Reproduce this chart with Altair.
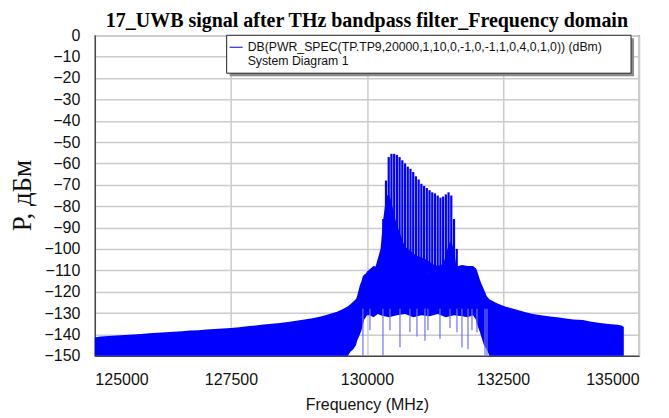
import altair as alt
import pandas as pd

# ---------------- data ----------------
# broadband noise floor: frequency (MHz), upper edge and lower edge (dBm)
noise_freq = [125000, 125100, 125250, 125400, 125550, 125700, 125850, 126000, 126150, 126300,
              126450, 126600, 126750, 126900, 127050, 127200, 127350, 127500, 127650, 127800,
              127950, 128100, 128250, 128400, 128550, 128700, 128850, 129000, 129150, 129300,
              129450, 129550, 129650, 129700, 129750, 129800, 129820, 129870, 129900, 129920,
              129950, 129980, 130000, 130050, 130120, 130200, 130250, 130400, 130550, 130700,
              130850, 131000, 131150, 131300, 131450, 131600, 131750, 131850, 131950, 132000,
              132020, 132077, 132100, 132150, 132200, 132250, 132316, 132400, 132550, 132757,
              132900, 133050, 133200, 133364, 133500, 133650, 133800, 133971, 134100, 134250,
              134400, 134596, 134680, 134720]
noise_top = [-141.5, -141, -140.8, -140.5, -140.3, -140, -139.8, -139.5, -139.2, -139,
             -138.7, -138.5, -138.2, -138, -137.7, -137.5, -137.2, -137, -136.6, -136.2,
             -135.8, -135.4, -135, -134.6, -134.2, -133.6, -133, -132.4, -131.6, -130.6,
             -129.4, -128.2, -126.8, -125.8, -124.6, -123.4, -122, -117, -115, -113,
             -112, -111.5, -110.5, -109.5, -108, -108.5, -108, -110, -109.5, -111,
             -110, -110.5, -111, -110, -109, -108.5, -107.5, -108, -108, -109,
             -110, -114.5, -116, -119, -122, -123.5, -124.5, -125.5, -127, -128.5,
             -129.5, -130.5, -131, -131.6, -132, -132.5, -133, -133.3, -134, -134.5,
             -135, -135.5, -135.8, -136.5]
noise_bottom = [-150, -150, -150, -150, -150, -150, -150, -150, -150, -150,
                -150, -150, -150, -150, -150, -150, -150, -150, -150, -150,
                -150, -150, -150, -150, -150, -150, -150, -150, -150, -150,
                -150, -150, -150, -148, -147, -145, -143, -140, -138, -136,
                -133, -132, -131, -131, -132, -130.5, -131, -132, -131, -130.5,
                -132, -131, -131.5, -130.5, -132, -131, -131.5, -132, -131, -133,
                -135, -139, -141, -145, -147, -150, -150, -150, -150, -150,
                -150, -150, -150, -150, -150, -150, -150, -150, -150, -150,
                -150, -150, -150, -150]

# dense core inside the comb region
core_freq = [130150, 130250, 130300, 130350, 130400, 130450, 130500, 130550, 130600, 130650,
             130700, 130800, 130900, 131000, 131100, 131200, 131300, 131400, 131450, 131500,
             131550, 131600, 131650]
core_top = [-109, -100, -86, -76, -74, -78, -84, -89, -92, -96,
            -99, -101, -103, -104, -105, -107, -108, -107, -103, -98,
            -96, -101, -109]

# spectral comb lines: frequency (MHz) and peak level (dBm)
comb_freq = [130300, 130350, 130400, 130450, 130500, 130550, 130600, 130650, 130700, 130750,
             130800, 130850, 130900, 130950, 131000, 131050, 131100, 131150, 131200, 131250,
             131300, 131350, 131400, 131450, 131500, 131550, 131600, 131650]
comb_peak = [-86, -68, -57, -55.5, -55.5, -56, -57, -58.5, -60, -61.5,
             -62.5, -64, -66, -67.5, -69.5, -70.5, -71.5, -72.5, -73.5, -74,
             -75, -76, -75.5, -74.5, -73.5, -75, -86, -100]

# deep downward noise dips in the passband
dip_freq = [129926, 130055, 130294, 130423, 130607, 130790, 130919, 131066, 131121, 131342,
            131526, 131654, 131746, 131857, 131930, 132022, 132169, 132206]
dip_low = [-150, -138, -150, -138, -146, -139, -141, -143, -138, -142,
           -137, -139, -146, -147, -138, -139, -150, -150]

x_ticks = [125000, 127500, 130000, 132500, 135000]
y_ticks = list(range(-150, 1, 10))

title_text = "17_UWB signal after THz bandpass filter_Frequency domain"
legend_lines = ["DB(PWR_SPEC(TP.TP9,20000,1,10,0,-1,0,-1,1,0,4,0,1,0)) (dBm)", "System Diagram 1"]

# ---------------- chart ----------------
BLUE = "#0000FF"
W, H = 545, 321

noise_df = pd.DataFrame({"f": noise_freq, "top": noise_top, "bottom": noise_bottom})
core_df = pd.DataFrame({"f": core_freq, "top": core_top})
comb_df = pd.DataFrame({"f": comb_freq, "peak": comb_peak})
dip_df = pd.DataFrame({"f": dip_freq, "low": dip_low})
one = pd.DataFrame({"a": [0]})

xs = alt.Scale(domain=[125000, 135000], nice=False, zero=False)
ys = alt.Scale(domain=[-150, 0], nice=False, zero=False)

x_axis = alt.Axis(values=x_ticks, tickCount=len(x_ticks), format="d", title="Frequency (MHz)",
                  ticks=False, labelPadding=16, labelOverlap=False, titleY=49,
                  titleBaseline="middle", titleFontWeight="normal",
                  titleFont="Liberation Sans", titleFontSize=16)
y_axis = alt.Axis(values=y_ticks, tickCount=len(y_ticks), format="d", title="Р, дБм",
                  ticks=False, labelPadding=15, labelOverlap=False, titleAngle=270,
                  titleX=-72, titleY=160, titleAlign="center", titleBaseline="middle",
                  titleFont="Liberation Serif", titleFontSize=27, titleFontWeight="normal")

noise = alt.Chart(noise_df).mark_area(color=BLUE, opacity=1, interpolate="linear").encode(
    x=alt.X("f:Q", scale=xs, axis=x_axis),
    y=alt.Y("top:Q", scale=ys, axis=y_axis),
    y2="bottom:Q",
)

core = alt.Chart(core_df).mark_area(color=BLUE, opacity=1).encode(
    x=alt.X("f:Q", scale=xs), y=alt.Y("top:Q", scale=ys), y2=alt.datum(-111)
)

comb = alt.Chart(comb_df).mark_rule(color=BLUE, strokeWidth=2.2).encode(
    x=alt.X("f:Q", scale=xs), y=alt.Y("peak:Q", scale=ys), y2=alt.datum(-112)
)

dips = alt.Chart(dip_df).mark_rule(color="#6f6fff", strokeWidth=1.2).encode(
    x=alt.X("f:Q", scale=xs), y=alt.Y("low:Q", scale=ys), y2=alt.datum(-128)
)

title = alt.Chart(one).mark_text(align="center", baseline="alphabetic", font="Liberation Serif",
                                 fontSize=20, fontWeight="bold", color="black").encode(
    x=alt.value(W / 2), y=alt.value(-8), text=alt.value(title_text)
)

shadow = alt.Chart(one).mark_rect(color="#8c8c8c").encode(
    x=alt.value(135), x2=alt.value(540), y=alt.value(3), y2=alt.value(41)
)
box = alt.Chart(one).mark_rect(fill="white", stroke="#222222", strokeWidth=1).encode(
    x=alt.value(132), x2=alt.value(537), y=alt.value(0), y2=alt.value(38)
)
leg_line = alt.Chart(one).mark_rule(color=BLUE, strokeWidth=1).encode(
    x=alt.value(135), x2=alt.value(148), y=alt.value(12)
)
leg_t1 = alt.Chart(one).mark_text(align="left", baseline="middle", font="Liberation Sans",
                                  fontSize=12.3, color="#111111").encode(
    x=alt.value(153), y=alt.value(12), text=alt.value(legend_lines[0])
)
leg_t2 = alt.Chart(one).mark_text(align="left", baseline="middle", font="Liberation Sans",
                                  fontSize=12.3, color="#111111").encode(
    x=alt.value(153), y=alt.value(26), text=alt.value(legend_lines[1])
)

chart = alt.layer(noise, core, comb, dips, shadow, box, leg_line, leg_t1, leg_t2, title).properties(
    width=W, height=H,
    autosize=alt.AutoSizeParams(type="none"),
    padding={"left": 87, "top": 27, "right": 22, "bottom": 62},
).configure_view(stroke="#444444", strokeWidth=1.2).configure_axis(
    labelFont="Liberation Sans", labelFontSize=16, labelColor="#111111",
    titleColor="#111111", gridColor="#cccccc", gridWidth=1.5,
    domainColor="#444444", domainWidth=1.2,
).configure_axisY(tickCount=len(y_ticks))

chart.save("out.html", embed_options={"renderer": "svg", "actions": False})
